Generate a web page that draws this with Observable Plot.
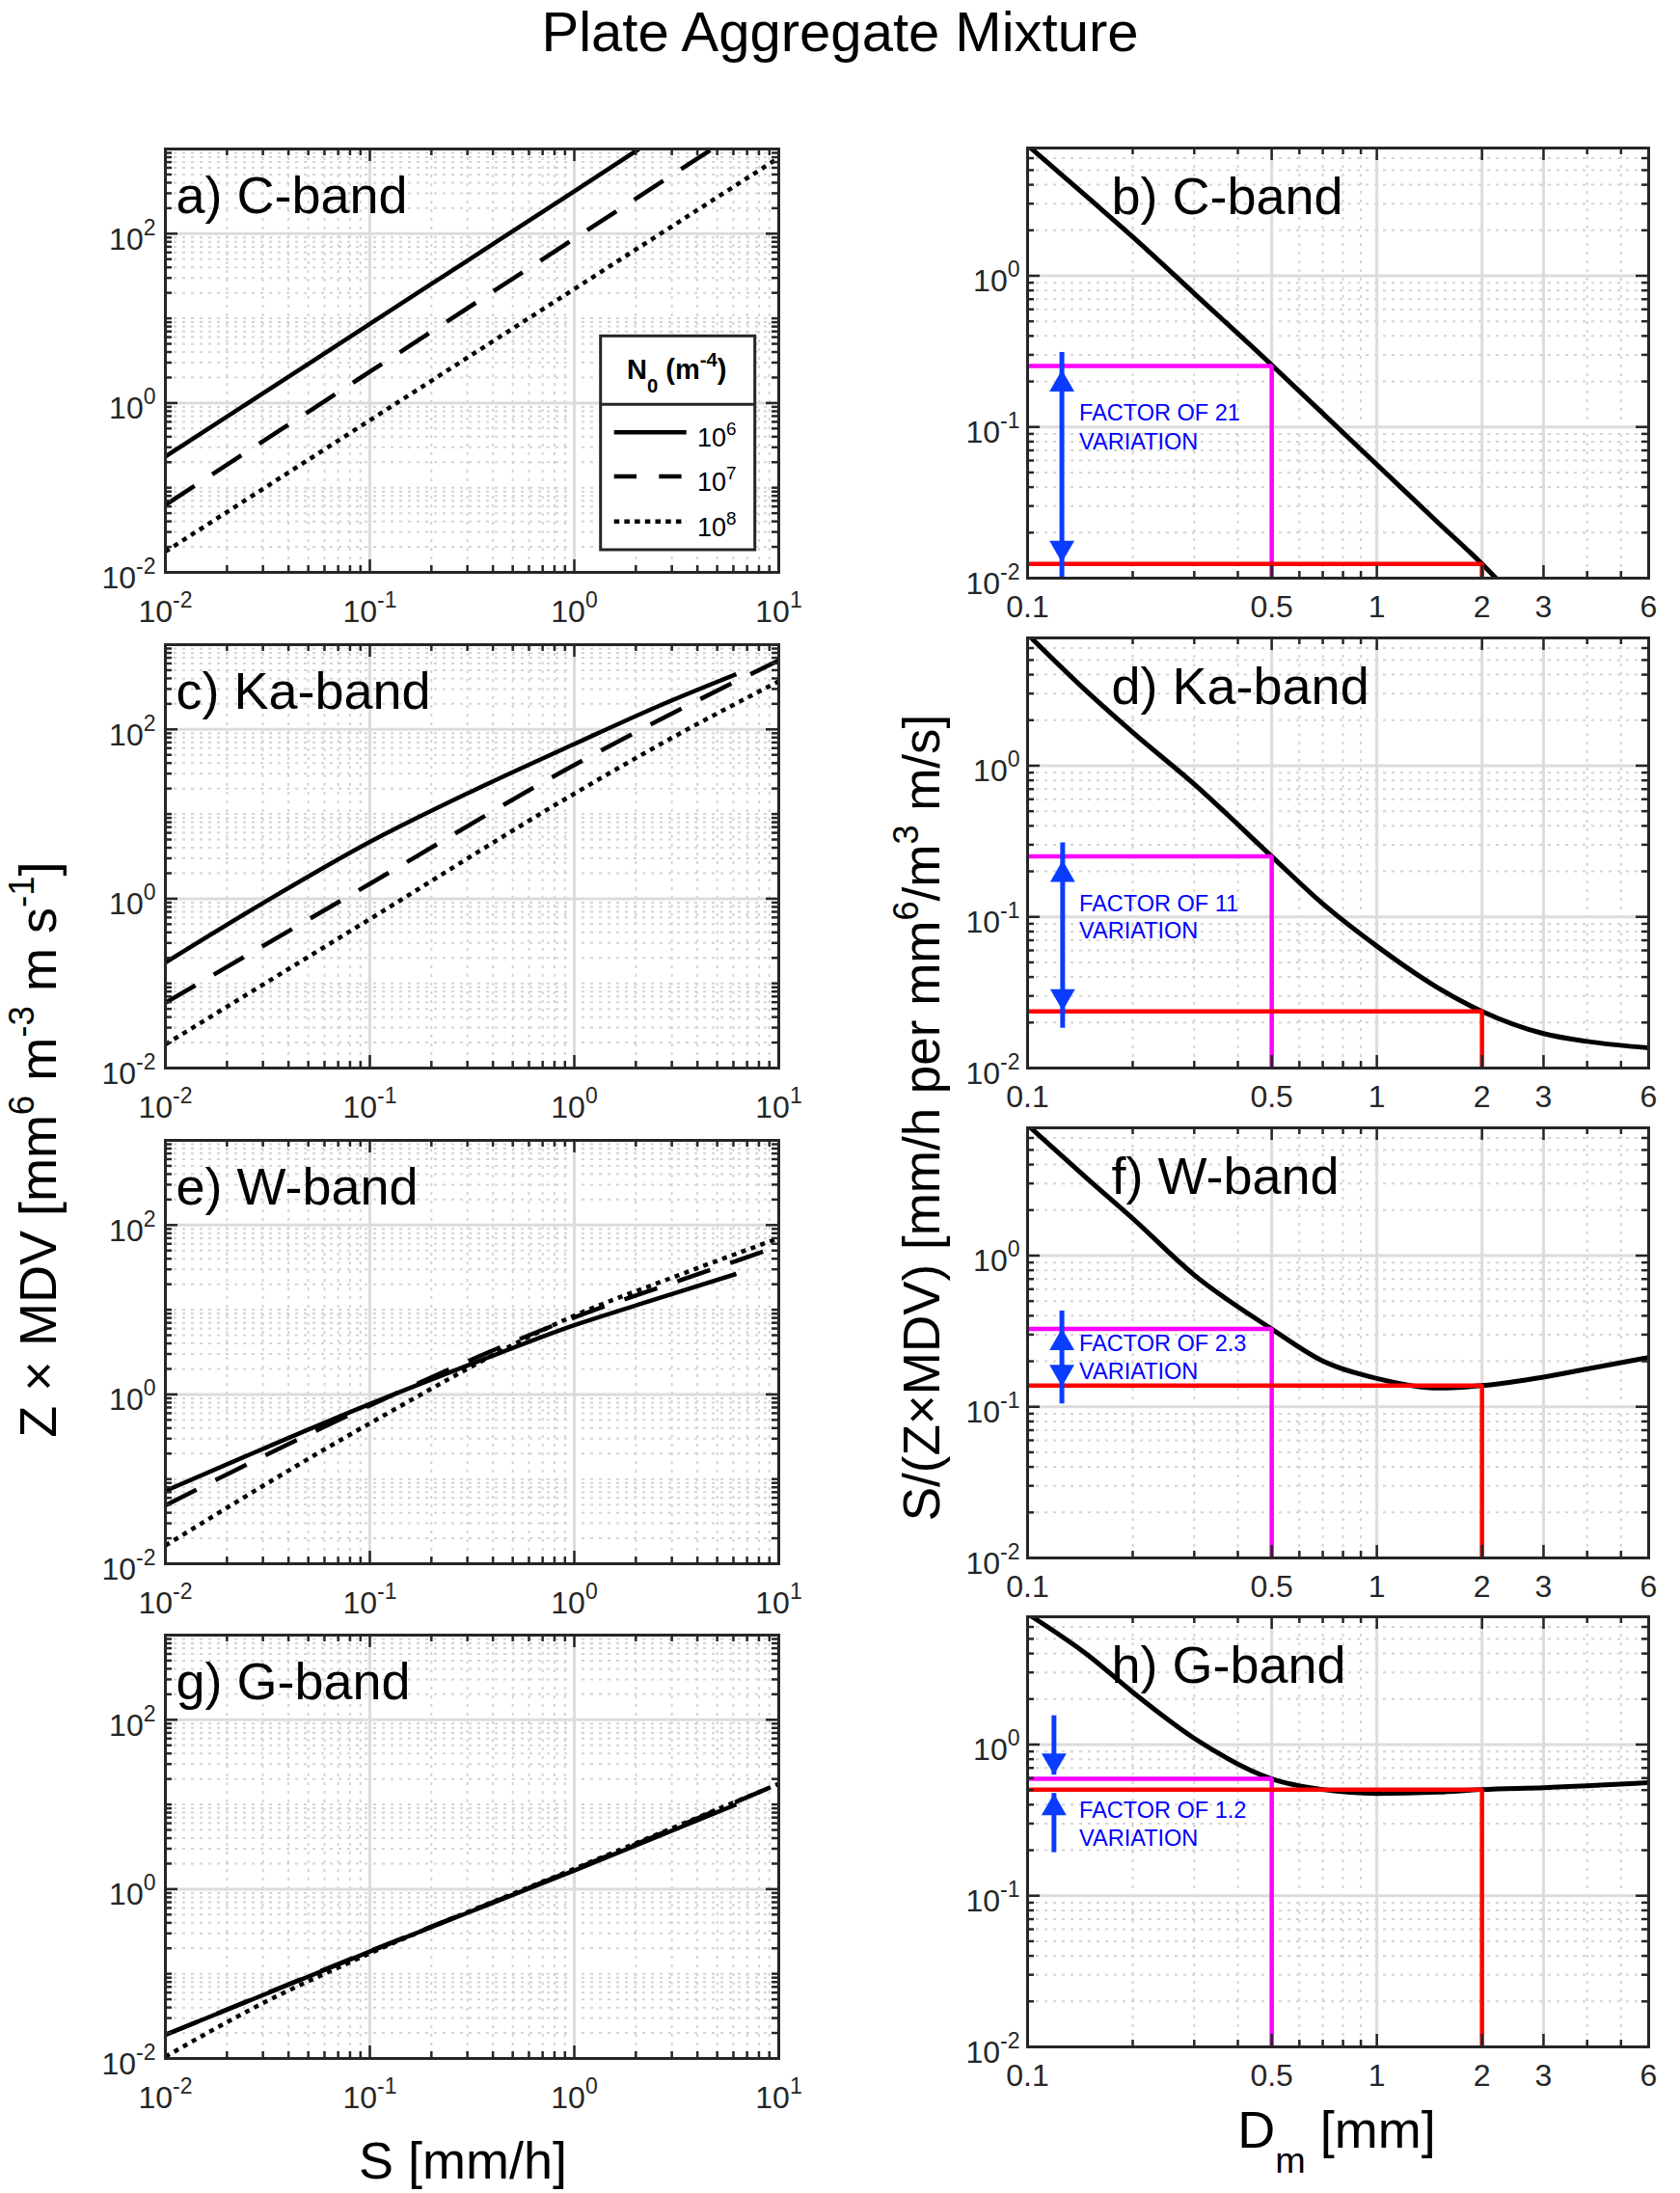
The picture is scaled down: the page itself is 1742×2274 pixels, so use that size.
<!DOCTYPE html>
<html>
<head>
<meta charset="utf-8">
<script src="https://cdn.jsdelivr.net/npm/d3@7"></script>
<script src="https://cdn.jsdelivr.net/npm/@observablehq/plot@0.6"></script>
<style>
html,body{margin:0;padding:0;background:#fff;}
#fig{position:relative;width:1742px;height:2274px;background:#fff;overflow:hidden;}
#fig > svg{position:absolute;}
</style>
</head>
<body>
<div id="fig"></div>
<script>
// ================= DATA =================
const figTitle = "Plate Aggregate Mixture";
const leftTitles = ["a) C-band", "c) Ka-band", "e) W-band", "g) G-band"];
const rightTitles = ["b) C-band", "d) Ka-band", "f) W-band", "h) G-band"];
const n0Labels = ["10^6", "10^7", "10^8"];

// axis ticks
const sTicks = [0.01, 0.1, 1, 10];
const sTickLabels = ["10^-2", "10^-1", "10^0", "10^1"];
const zTicks = [0.01, 1, 100];
const zTickLabels = ["10^-2", "10^0", "10^2"];
const dmTicks = [0.1, 0.5, 1, 2, 3, 6];
const dmTickLabels = ["0.1", "0.5", "1", "2", "3", "6"];
const dmMinor = [0.2, 0.3, 0.4, 0.6, 0.7, 0.8, 0.9, 4, 5];
const ratioTicks = [0.01, 0.1, 1];
const ratioTickLabels = ["10^-2", "10^-1", "10^0"];

// Left panels: S [mm/h] vs Z x MDV, N0 = 1e6 (solid), 1e7 (dashed), 1e8 (dotted)
const sC6 = [0.01, 0.03, 0.1, 0.3, 1, 2.07];
const zC6 = [0.233, 1.30, 8.6, 48, 317, 1000];
const sC7 = [0.01, 0.1, 1, 4.72];
const zC7 = [0.0627, 2.34, 87.3, 1000];
const sC8 = [0.01, 0.1, 1, 10];
const zC8 = [0.0176, 0.625, 22.2, 787];

const sKa6 = [0.01, 0.0316, 0.1, 0.316, 1, 2.5, 6.2];
const zKa6 = [0.176, 0.955, 4.68, 18.6, 67.1, 182, 448];
const sKa7 = [0.01, 0.1, 1, 3.16, 10];
const zKa7 = [0.059, 1.5, 38, 164, 652];
const sKa8 = [0.01, 0.1, 1, 3.16, 10];
const zKa8 = [0.019, 0.574, 17.4, 85, 369];

const sW6 = [0.01, 0.0316, 0.1, 0.316, 1, 2.5, 6.2];
const zW6 = [0.0726, 0.24, 0.769, 2.3, 6.56, 13.3, 26.5];
const sW7 = [0.01, 0.1, 1, 3.16, 10];
const zW7 = [0.049, 0.74, 8.1, 21.5, 56];
const sW8 = [0.01, 0.1, 1, 3.16, 10];
const zW8 = [0.0164, 0.455, 8.5, 25, 70];

const sG6 = [0.01, 0.1, 1, 6.2];
const zG6 = [0.019, 0.183, 1.66, 10];
const sG7 = [0.01, 0.1, 1, 10];
const zG7 = [0.019, 0.185, 1.7, 17.5];
const sG8 = [0.01, 0.03, 0.1, 1, 10];
const zG8 = [0.0105, 0.045, 0.174, 1.74, 17.5];

// Right panels: Dm [mm] vs S/(Z x MDV)
const dmC = [0.1, 0.15, 0.2, 0.3, 0.5, 0.7, 1, 1.5, 2, 2.2];
const rC = [7.3, 3.24, 1.81, 0.764, 0.257, 0.123, 0.0564, 0.0232, 0.0124, 0.0099];
const dmKa = [0.1, 0.15, 0.2, 0.3, 0.5, 0.7, 1, 1.5, 2, 3, 4, 6];
const rKa = [7.4, 3.0, 1.66, 0.755, 0.251, 0.122, 0.064, 0.0338, 0.0237, 0.0169, 0.015, 0.0136];
const dmW = [0.1, 0.15, 0.2, 0.3, 0.5, 0.7, 1, 1.5, 2, 3, 4, 6];
const rW = [7.3, 3.15, 1.76, 0.744, 0.327, 0.201, 0.154, 0.133, 0.138, 0.157, 0.178, 0.212];
const dmG = [0.103, 0.15, 0.2, 0.3, 0.5, 0.7, 1, 1.5, 2, 3, 6];
const rG = [7.0, 3.85, 2.22, 1.1, 0.593, 0.504, 0.475, 0.485, 0.504, 0.519, 0.56];

// highlighted Dm values and their ratios
const dmSmall = 0.5;
const dmLarge = 2;
const ratioAtSmall = [0.253, 0.251, 0.327, 0.593];
const ratioAtLarge = [0.0124, 0.0237, 0.138, 0.504];

// annotations
const factorText = ["FACTOR OF 21", "FACTOR OF 11", "FACTOR OF 2.3", "FACTOR OF 1.2"];
const variationText = "VARIATION";
const textDm = 0.1406;
const factorY1 = [0.124, 0.122, 0.26, 0.366];
const factorY2 = [0.0796, 0.080, 0.170, 0.239];
const arrowDm = [0.1254, 0.126, 0.1254, 0.119];
const arrowLow = [0.0127, 0.0239, 0.136];   // double arrows (b, d, f)
const arrowHigh = [0.239, 0.237, 0.33];
const gArrowDown = [1.19, 0.628];            // h: from, tip
const gArrowUp = [0.251, 0.475];             // h: from, tip

// ================= STYLE =================
const FONT = '"Liberation Sans", Arial, Helvetica, sans-serif';
const INK = "#262626";
const GRID_MAJOR = "#dcdcdc";
const GRID_MINOR = "#d4d4d4";
const BLUE_TEXT = "#0000ff";
const BLUE_ARROW = "#0a3cff";
const SVGNS = "http://www.w3.org/2000/svg";
const fig = document.getElementById("fig");

function logMinor(lo, hi, major) {
  const out = [];
  for (let e = Math.floor(Math.log10(lo)); e <= Math.ceil(Math.log10(hi)); e++) {
    for (let k = 1; k <= 9; k++) {
      const v = +(k * Math.pow(10, e)).toPrecision(6);
      if (v > lo * 1.0001 && v < hi * 0.9999 && !major.includes(v)) out.push(v);
    }
  }
  return out;
}

function supify(svg, size, raise) {
  svg.querySelectorAll("text").forEach(t => {
    if (t.querySelector("tspan")) return;
    const m = /^10\^(-?\d+)$/.exec(t.textContent);
    if (!m) return;
    t.textContent = "10";
    const ts = document.createElementNS(SVGNS, "tspan");
    ts.setAttribute("dy", -raise);
    ts.setAttribute("font-size", size);
    ts.textContent = m[1];
    t.appendChild(ts);
  });
}

function boxTicks(xMaj, xMin, yMaj, yMin, FW, FH) {
  const o = {stroke: INK, strokeWidth: 2.5};
  const MJ = 13, MN = 7;
  return [
    Plot.ruleX(xMaj, {...o, insetTop: FH - MJ}),
    Plot.ruleX(xMaj, {...o, insetBottom: FH - MJ}),
    Plot.ruleX(xMin, {...o, insetTop: FH - MN}),
    Plot.ruleX(xMin, {...o, insetBottom: FH - MN}),
    Plot.ruleY(yMaj, {...o, insetRight: FW - MJ}),
    Plot.ruleY(yMaj, {...o, insetLeft: FW - MJ}),
    Plot.ruleY(yMin, {...o, insetRight: FW - MN}),
    Plot.ruleY(yMin, {...o, insetLeft: FW - MN})
  ];
}

function place(svg, left, top) {
  svg.style.left = left + "px";
  svg.style.top = top + "px";
  fig.appendChild(svg);
}

// ================= LEFT PANELS =================
const L = {ML: 171, FW: 636, MR: 40, MT: 20, FH: 439, MB: 68};
const leftTops = [154, 668, 1182, 1695];
const leftSeries = [
  [[sC6, zC6], [sC7, zC7], [sC8, zC8]],
  [[sKa6, zKa6], [sKa7, zKa7], [sKa8, zKa8]],
  [[sW6, zW6], [sW7, zW7], [sW8, zW8]],
  [[sG6, zG6], [sG7, zG7], [sG8, zG8]]
];
const lineDash = [undefined, "36,22", "5,5.5"];

const sMinor = logMinor(0.01, 10, sTicks);
const zMinor = logMinor(0.01, 1000, zTicks);

leftSeries.forEach((series, i) => {
  const marks = [
    Plot.ruleX(sMinor, {stroke: GRID_MINOR, strokeWidth: 2, strokeDasharray: "3,6"}),
    Plot.ruleY(zMinor, {stroke: GRID_MINOR, strokeWidth: 2, strokeDasharray: "3,6"}),
    Plot.ruleX(sTicks, {stroke: GRID_MAJOR, strokeWidth: 3}),
    Plot.ruleY(zTicks, {stroke: GRID_MAJOR, strokeWidth: 3})
  ];
  series.forEach(([S, Z], k) => {
    marks.push(Plot.line(d3.zip(S, Z), {
      x: d => d[0], y: d => d[1], stroke: "#000", strokeWidth: 4.5,
      strokeDasharray: lineDash[k], strokeLinecap: "butt", curve: "monotone-x", clip: true
    }));
  });
  marks.push(...boxTicks(sTicks, sMinor, zTicks, zMinor, L.FW, L.FH));
  marks.push(Plot.frame({stroke: INK, strokeWidth: 3}));
  marks.push(Plot.axisX(sTicks, {tickSize: 0, tickPadding: 29, fontSize: 32, label: null,
    tickFormat: d => sTickLabels[sTicks.indexOf(d)]}));
  marks.push(Plot.axisY(zTicks, {tickSize: 0, tickPadding: 10, fontSize: 32, label: null, dy: 6,
    tickFormat: d => zTickLabels[zTicks.indexOf(d)]}));
  marks.push(Plot.text([leftTitles[i]], {frameAnchor: "top-left", text: d => d, textAnchor: "start",
    lineAnchor: "top", fontSize: 54, dx: 11, dy: 28, fill: "#000"}));
  const svg = Plot.plot({
    width: L.ML + L.FW + L.MR, height: L.MT + L.FH + L.MB,
    marginLeft: L.ML, marginRight: L.MR, marginTop: L.MT, marginBottom: L.MB,
    x: {type: "log", domain: [0.01, 10.001]},
    y: {type: "log", domain: [0.01, 1000]},
    style: {background: "transparent", overflow: "visible", fontFamily: FONT, fontSize: "32px", color: INK},
    marks
  });
  supify(svg, 23, 15);
  place(svg, 0, leftTops[i] - L.MT);
});

// ================= RIGHT PANELS =================
const R = {ML: 125, FW: 644, MR: 33, MT: 20, FH: 446, MB: 60};
const rightTops = [153, 661, 1169, 1676];
const rightCurves = [[dmC, rC], [dmKa, rKa], [dmW, rW], [dmG, rG]];
const ratioMinor = logMinor(0.01, 7, ratioTicks);

rightCurves.forEach(([D, Rv], i) => {
  const lo = 0.01, left = 0.1;
  const m = ratioAtSmall[i], r = ratioAtLarge[i];
  const marks = [
    Plot.ruleX(dmMinor, {stroke: GRID_MINOR, strokeWidth: 2, strokeDasharray: "3,6"}),
    Plot.ruleY(ratioMinor, {stroke: GRID_MINOR, strokeWidth: 2, strokeDasharray: "3,6"}),
    Plot.ruleX(dmTicks, {stroke: GRID_MAJOR, strokeWidth: 3}),
    Plot.ruleY(ratioTicks, {stroke: GRID_MAJOR, strokeWidth: 3}),
    Plot.line(d3.zip(D, Rv), {x: d => d[0], y: d => d[1], stroke: "#000", strokeWidth: 5,
      curve: "monotone-x", clip: true}),
    Plot.line([[left, m], [dmSmall, m], [dmSmall, lo]], {x: d => d[0], y: d => d[1],
      stroke: "#ff00ff", strokeWidth: 4.5, strokeLinejoin: "miter", strokeLinecap: "butt", clip: true}),
    Plot.line([[left, r], [dmLarge, r], [dmLarge, lo]], {x: d => d[0], y: d => d[1],
      stroke: "#ff0000", strokeWidth: 4.5, strokeLinejoin: "miter", strokeLinecap: "butt", clip: true})
  ];
  const ax = arrowDm[i];
  const head = {symbol: "triangle", r: 9.6, fill: BLUE_ARROW};
  if (i < 3) {
    marks.push(Plot.ruleX([ax], {y1: arrowLow[i], y2: arrowHigh[i], stroke: BLUE_ARROW, strokeWidth: 5,
      insetTop: 18, insetBottom: 18}));
    marks.push(Plot.dot([[ax, arrowHigh[i]]], {x: d => d[0], y: d => d[1], ...head, dy: 15}));
    marks.push(Plot.dot([[ax, arrowLow[i]]], {x: d => d[0], y: d => d[1], ...head, rotate: 180, dy: -15}));
  } else {
    marks.push(Plot.ruleX([ax], {y1: gArrowDown[1], y2: gArrowDown[0], stroke: BLUE_ARROW, strokeWidth: 5, insetBottom: 18}));
    marks.push(Plot.dot([[ax, gArrowDown[1]]], {x: d => d[0], y: d => d[1], ...head, rotate: 180, dy: -15}));
    marks.push(Plot.ruleX([ax], {y1: gArrowUp[0], y2: gArrowUp[1], stroke: BLUE_ARROW, strokeWidth: 5, insetTop: 18}));
    marks.push(Plot.dot([[ax, gArrowUp[1]]], {x: d => d[0], y: d => d[1], ...head, dy: 15}));
  }
  marks.push(Plot.text([[textDm, factorY1[i], factorText[i]], [textDm, factorY2[i], variationText]], {
    x: d => d[0], y: d => d[1], text: d => d[2], textAnchor: "start", lineAnchor: "middle",
    fontSize: 23.5, fill: BLUE_TEXT}));
  marks.push(...boxTicks(dmTicks, dmMinor, ratioTicks, ratioMinor, R.FW, R.FH));
  marks.push(Plot.frame({stroke: INK, strokeWidth: 3}));
  // x tick labels drawn as text marks anchored to the frame bottom
  marks.push(Plot.text(dmTicks, {x: d => d, text: d => dmTickLabels[dmTicks.indexOf(d)],
    frameAnchor: "bottom", lineAnchor: "top", textAnchor: "middle", dy: 17.3, fontSize: 32, fill: INK}));
  marks.push(Plot.axisY(ratioTicks, {tickSize: 0, tickPadding: 8, fontSize: 32, label: null, dy: 6,
    tickFormat: d => ratioTickLabels[ratioTicks.indexOf(d)]}));
  marks.push(Plot.text([rightTitles[i]], {frameAnchor: "top-left", text: d => d, textAnchor: "start",
    lineAnchor: "top", fontSize: 54, dx: 87, dy: 30, fill: "#000"}));
  const svg = Plot.plot({
    width: R.ML + R.FW + R.MR, height: R.MT + R.FH + R.MB,
    marginLeft: R.ML, marginRight: R.MR, marginTop: R.MT, marginBottom: R.MB,
    x: {type: "log", domain: [0.1, 6], axis: null},
    y: {type: "log", domain: [0.01, 7]},
    style: {background: "transparent", overflow: "visible", fontFamily: FONT, fontSize: "32px", color: INK},
    marks
  });
  supify(svg, 23, 15);
  place(svg, 940, rightTops[i] - R.MT);
});

// ================= OVERLAY: title, axis labels, legend =================
const ov = d3.select(fig).append("svg")
  .attr("width", 1742).attr("height", 2274)
  .style("left", "0px").style("top", "0px")
  .attr("font-family", FONT).style("white-space", "pre");

function rich(parent, parts, size, attrs, supRaise = 0.45, subDrop = 0.48, supScale = 0.7) {
  const t = parent.append("text").attr("font-size", size).attr("fill", "#000");
  Object.entries(attrs).forEach(([k, v]) => t.attr(k, v));
  let cur = 0;
  parts.forEach(([s, k]) => {
    const off = k === 1 ? -supRaise * size : k === -1 ? subDrop * size : 0;
    t.append("tspan").attr("dy", off - cur).attr("font-size", k ? supScale * size : size).text(s);
    cur = off;
  });
  return t;
}

ov.append("text").attr("x", 871).attr("y", 53).attr("text-anchor", "middle")
  .attr("font-size", 58).attr("fill", "#000").text(figTitle);

rich(ov, [["Z × MDV [mm", 0], ["6", 1], [" m", 0], ["-3", 1], [" m s", 0], ["-1", 1], ["]", 0]], 54,
  {"text-anchor": "middle", transform: "translate(58,1192) rotate(-90)"}, 0.42, 0.48, 0.68);
rich(ov, [["S/(Z×MDV) [mm/h per mm", 0], ["6", 1], ["/m", 0], ["3", 1], [" m/s]", 0]], 53,
  {"text-anchor": "middle", transform: "translate(974,1159) rotate(-90)"}, 0.42, 0.48, 0.68);
rich(ov, [["S [mm/h]", 0]], 54, {"text-anchor": "middle", x: 480, y: 2259});
rich(ov, [["D", 0], ["m", -1], [" [mm]", 0]], 54, {"text-anchor": "middle", x: 1386, y: 2227});

// legend (panel a)
const lg = ov.append("g");
lg.append("rect").attr("x", 622.7).attr("y", 348.3).attr("width", 160).attr("height", 221.7)
  .attr("fill", "#fff").attr("stroke", INK).attr("stroke-width", 3);
lg.append("line").attr("x1", 622.7).attr("x2", 782.7).attr("y1", 419.3).attr("y2", 419.3)
  .attr("stroke", INK).attr("stroke-width", 3);
rich(lg, [["N", 0], ["0", -1], [" (m", 0], ["-4", 1], [")", 0]], 29,
  {"text-anchor": "middle", x: 701.7, y: 393, "font-weight": "bold"}, 0.45, 0.48);
const legendY = [448.3, 494, 540.7];
const legendDash = [null, "23.3,23.3", "5.5,5.2"];
n0Labels.forEach((lab, k) => {
  const ln = lg.append("line").attr("x1", 636.7).attr("x2", 711.7)
    .attr("y1", legendY[k]).attr("y2", legendY[k]).attr("stroke", "#000").attr("stroke-width", 4.5);
  if (legendDash[k]) ln.attr("stroke-dasharray", legendDash[k]);
  const m = /^10\^(-?\d+)$/.exec(lab);
  rich(lg, [["10", 0], [m[1], 1]], 27, {x: 723, y: legendY[k] + 15}, 0.45);
});
</script>
</body>
</html>
